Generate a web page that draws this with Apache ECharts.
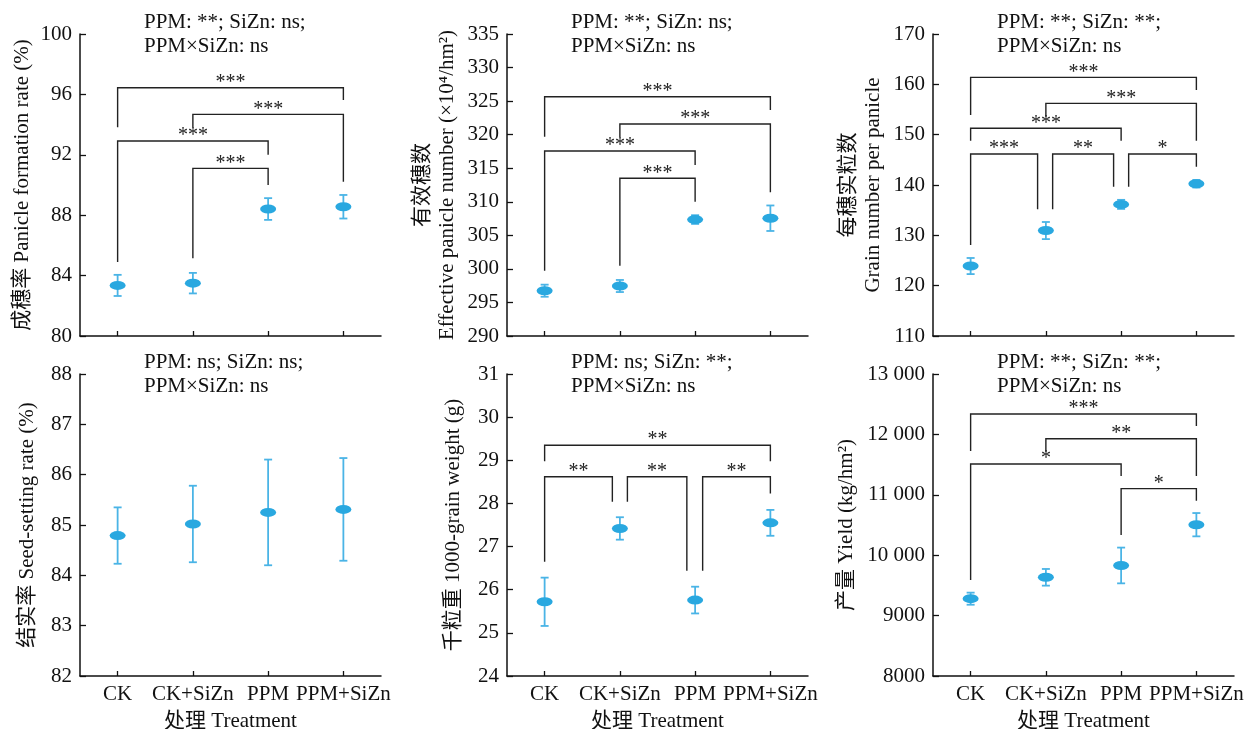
<!DOCTYPE html>
<html>
<head>
<meta charset="utf-8">
<script src="https://cdn.jsdelivr.net/npm/echarts@6/dist/echarts.min.js"></script>
<style>
  html, body { margin: 0; padding: 0; background: #fff; }
  #chart-container { width: 1247px; height: 729px; }
</style>
</head>
<body>
<div id="chart-container"></div>
<script>
// treatments on the x axis
const treatments = ['CK', 'CK+SiZn', 'PPM', 'PPM+SiZn'];

// means and error bars
const panicleRate = [83.35, 83.5, 88.41, 88.56];
const panicleRateErr = [0.7, 0.68, 0.72, 0.78];
const panicleNum = [296.75, 297.45, 307.35, 307.55];
const panicleNumErr = [0.9, 0.9, 0.65, 1.9];
const grainNum = [123.9, 130.95, 136.15, 140.25];
const grainNumErr = [1.6, 1.7, 0.9, 0.75];
const seedRate = [84.79, 85.02, 85.25, 85.31];
const seedRateErr = [0.56, 0.76, 1.05, 1.02];
const grainWeight = [25.72, 27.42, 25.76, 27.55];
const grainWeightErr = [0.56, 0.26, 0.31, 0.3];
const yieldVal = [9280, 9634, 9830, 10505];
const yieldErr = [100, 138, 296, 193];

// significance brackets: [from, to, line y, left end y, right end y, label]
// from/to are category positions, decimals = shift inside the band
const panicleRateSig = [
  [0, 3, 96.44, 93.82, 95.63, '***'],
  [1, 3, 94.68, 93.8, 90.22, '***'],
  [0, 2, 92.91, 84.9, 92.0, '***'],
  [1, 2, 91.1, 85.15, 90.0, '***']
];
const panicleNumSig = [
  [0, 3, 325.66, 319.7, 323.68, '***'],
  [1, 3, 321.59, 319.6, 311.41, '***'],
  [0, 2, 317.57, 299.73, 315.48, '***'],
  [1, 2, 313.5, 300.48, 310.0, '***']
];
const grainNumSig = [
  [0, 3, 161.39, 153.9, 158.87, '***'],
  [1, 3, 156.22, 153.57, 148.8, '***'],
  [0, 2, 151.26, 148.8, 148.8, '***'],
  [0, 0.89, 146.16, 128.08, 135.17, '***'],
  [1.09, 1.9, 146.16, 135.17, 139.67, '**'],
  [2.1, 3, 146.16, 139.67, 143.64, '*']
];
const seedRateSig = [];
const grainWeightSig = [
  [0, 3, 29.35, 28.98, 28.98, '**'],
  [0, 0.9, 28.62, 26.65, 28.04, '**'],
  [1.1, 1.89, 28.62, 28.04, 26.44, '**'],
  [2.1, 3, 28.62, 26.44, 28.23, '**']
];
const yieldSig = [
  [0, 3, 12338, 11725, 12139, '***'],
  [1, 3, 11929, 11714, 11311, '**'],
  [0, 2, 11510, 9589, 11311, '*'],
  [2, 3, 11102, 10334, 10903, '*']
];

const serif = "'Liberation Serif', 'Times New Roman', 'Noto Sans CJK SC', serif";
const blue = '#29a8e0';
const barBlue = '#4ab4e6';

const panels = [
  { mean: panicleRate, err: panicleRateErr, sig: panicleRateSig, min: 80, max: 100, interval: 4,
    name: '成穗率 Panicle formation rate (%)', gap: 45, note: 'PPM: **; SiZn: ns;\nPPM×SiZn: ns' },
  { mean: panicleNum, err: panicleNumErr, sig: panicleNumSig, min: 290, max: 335, interval: 5,
    name: '有效穗数\nEffective panicle number (×10⁴/hm²)', gap: 47, note: 'PPM: **; SiZn: ns;\nPPM×SiZn: ns' },
  { mean: grainNum, err: grainNumErr, sig: grainNumSig, min: 110, max: 170, interval: 10,
    name: '每穗实粒数\nGrain number per panicle', gap: 47, note: 'PPM: **; SiZn: **;\nPPM×SiZn: ns' },
  { mean: seedRate, err: seedRateErr, sig: seedRateSig, min: 82, max: 88, interval: 1,
    name: '结实率 Seed-setting rate (%)', gap: 40, note: 'PPM: ns; SiZn: ns;\nPPM×SiZn: ns' },
  { mean: grainWeight, err: grainWeightErr, sig: grainWeightSig, min: 24, max: 31, interval: 1,
    name: '千粒重 1000-grain weight (g)', gap: 41, note: 'PPM: ns; SiZn: **;\nPPM×SiZn: ns' },
  { mean: yieldVal, err: yieldErr, sig: yieldSig, min: 8000, max: 13000, interval: 1000,
    name: '产量 Yield (kg/hm²)', gap: 74, note: 'PPM: **; SiZn: **;\nPPM×SiZn: ns',
    fmt: v => v >= 10000 ? String(v).replace(/(\d+)(\d{3})$/, '$1 $2') : String(v) }
];

const lefts = [80, 507, 933];
const tops = [34, 374];
const gw = 301, gh = 302;

const grids = [], xAxes = [], yAxes = [], series = [], graphics = [];

panels.forEach((p, k) => {
  const col = k % 3, row = Math.floor(k / 3);
  grids.push({ left: lefts[col], top: tops[row], width: gw, height: gh, containLabel: false, outerBoundsMode: 'none' });

  xAxes.push({
    type: 'category', gridIndex: k, data: treatments,
    boundaryGap: true,
    name: row === 1 ? '处理 Treatment' : '',
    nameLocation: 'middle', nameGap: 35,
    nameTextStyle: { fontFamily: serif, fontSize: 21, color: '#111' },
    axisLine: { show: true, lineStyle: { color: '#111', width: 1.5 } },
    axisTick: { show: true, inside: true, length: 5, alignWithLabel: true, lineStyle: { color: '#111', width: 1.3 } },
    axisLabel: { show: row === 1, interval: 0, margin: 8, fontFamily: serif, fontSize: 21, color: '#111' },
    splitLine: { show: false }
  });

  yAxes.push({
    type: 'value', gridIndex: k, min: p.min, max: p.max, interval: p.interval,
    name: p.name, nameLocation: 'middle', nameGap: p.gap, nameRotate: 90,
    nameTextStyle: { fontFamily: serif, fontSize: 21, color: '#111', lineHeight: 25 },
    axisLine: { show: true, lineStyle: { color: '#111', width: 1.5 } },
    axisTick: { show: true, inside: true, length: 6, lineStyle: { color: '#111', width: 1.3 } },
    axisLabel: { margin: 8, fontFamily: serif, fontSize: 21, color: '#111', formatter: p.fmt || null },
    splitLine: { show: false }
  });

  // error bars
  const bars = p.mean.map((m, i) => [i, m - p.err[i], m + p.err[i]]);
  series.push({
    type: 'custom', xAxisIndex: k, yAxisIndex: k, z: 2,
    data: bars,
    encode: { x: 0, y: [1, 2] },
    renderItem: (params, api) => {
      const lo = api.coord([api.value(0), api.value(1)]);
      const hi = api.coord([api.value(0), api.value(2)]);
      const cap = 4;
      const st = { stroke: barBlue, lineWidth: 1.8 };
      return {
        type: 'group',
        children: [
          { type: 'line', shape: { x1: lo[0], y1: lo[1], x2: hi[0], y2: hi[1] }, style: st },
          { type: 'line', shape: { x1: lo[0] - cap, y1: lo[1], x2: lo[0] + cap, y2: lo[1] }, style: st },
          { type: 'line', shape: { x1: hi[0] - cap, y1: hi[1], x2: hi[0] + cap, y2: hi[1] }, style: st }
        ]
      };
    }
  });

  // means
  series.push({
    type: 'scatter', xAxisIndex: k, yAxisIndex: k, z: 3,
    symbol: 'circle', symbolSize: [16, 9],
    itemStyle: { color: blue, opacity: 1 },
    data: p.mean.map((m, i) => [i, m])
  });

  // significance brackets
  if (p.sig.length) {
    const list = p.sig;
    series.push({
      type: 'custom', xAxisIndex: k, yAxisIndex: k, z: 1,
      data: list.map(b => [0, b[2]]),
      renderItem: (params, api) => {
        const b = list[params.dataIndex];
        const band = api.size([1, 0])[0];
        const px = x => {
          const idx = Math.round(x);
          return api.coord([idx, p.min])[0] + (x - idx) * band;
        };
        const x1 = px(b[0]), x2 = px(b[1]);
        const y = api.coord([0, b[2]])[1];
        const yl = api.coord([0, b[3]])[1];
        const yr = api.coord([0, b[4]])[1];
        return {
          type: 'group',
          children: [
            { type: 'polyline', shape: { points: [[x1, yl], [x1, y], [x2, y], [x2, yr]] },
              style: { stroke: '#222', lineWidth: 1.4, fill: null } },
            { type: 'text', style: { x: (x1 + x2) / 2, y: y - 5, text: b[5], align: 'center', verticalAlign: 'middle',
              font: '20px ' + serif, fill: '#222' } }
          ]
        };
      }
    });
  }

  // two-way ANOVA note
  graphics.push({
    type: 'text', left: lefts[col] + 64, top: tops[row] - 23,
    style: { text: p.note, font: '21px ' + serif, fill: '#111', lineHeight: 23.5 }
  });
});

const myChart = echarts.init(document.getElementById('chart-container'));
myChart.setOption({
  animation: false,
  backgroundColor: '#fff',
  grid: grids,
  xAxis: xAxes,
  yAxis: yAxes,
  series: series,
  graphic: graphics
});
</script>
</body>
</html>
